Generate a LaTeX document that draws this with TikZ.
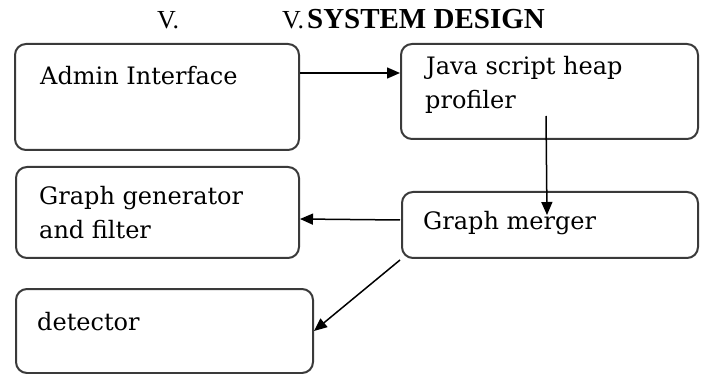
\documentclass[tikz,border=0pt]{standalone}
\usepackage{fontspec}
\setmainfont{DejaVu Serif}
\newfontfamily\titlefont{Liberation Serif}
\usetikzlibrary{arrows.meta}
\definecolor{boxline}{HTML}{3A3A3A}
\begin{document}
\begin{tikzpicture}[x=1pt,y=-1pt,
  box/.style={draw=boxline, line width=2pt, rounded corners=11pt, anchor=north west, inner sep=0pt},
  txt/.style={anchor=base west, inner sep=0pt, font=\fontsize{24}{30}\selectfont, text=black},
  arr/.style={draw=black, line width=1.5pt, -{Triangle[length=13pt,width=11pt]}}]
\useasboundingbox (0,0) rectangle (707,374);
% title
\node[anchor=base west, inner sep=0pt, font=\titlefont\fontsize{26}{30}\selectfont] (title1) at (157,29) {V.};
\node[anchor=base west, inner sep=0pt, font=\titlefont\fontsize{26}{30}\selectfont] (title2) at (282,29) {V.\kern3pt\fontsize{29}{32}\selectfont\bfseries SYSTEM DESIGN};
% boxes
\node[box, minimum width=284pt, minimum height=106pt] (b1) at (14,43) {};
\node[box, minimum width=297pt, minimum height=95pt] (b2) at (400,43) {};
\node[box, minimum width=283pt, minimum height=91pt] (b3) at (15,166) {};
\node[box, minimum width=296pt, minimum height=66pt] (b4) at (401,191) {};
\node[box, minimum width=297pt, minimum height=84pt] (b5) at (15,288) {};
% texts
\node[txt] (t1) at (40,85) {Admin Interface};
\node[txt] (t2a) at (426,75) {Java script heap};
\node[txt] (t2b) at (425,109) {profiler};
\node[txt] (t3a) at (39,205) {Graph generator};
\node[txt] (t3b) at (39,239) {and filter};
\node[txt] (t4) at (423,230) {Graph merger};
\node[txt] (t5) at (37,330) {detector};
% connectors
\draw[arr] ([shift={(0,-24)}]b1.east) -- ([shift={(0,-18.5)}]b2.west);
\draw[arr] ([shift={(146,-24)}]b2.south west) -- ([shift={(146,24)}]b4.north west);
\draw[arr] ([shift={(-1,-5)}]b4.west) -- ([shift={(0,6.5)}]b3.east);
\draw[arr] ([shift={(-1,1)}]b4.south west) -- (b5.east);
\end{tikzpicture}
\end{document}
